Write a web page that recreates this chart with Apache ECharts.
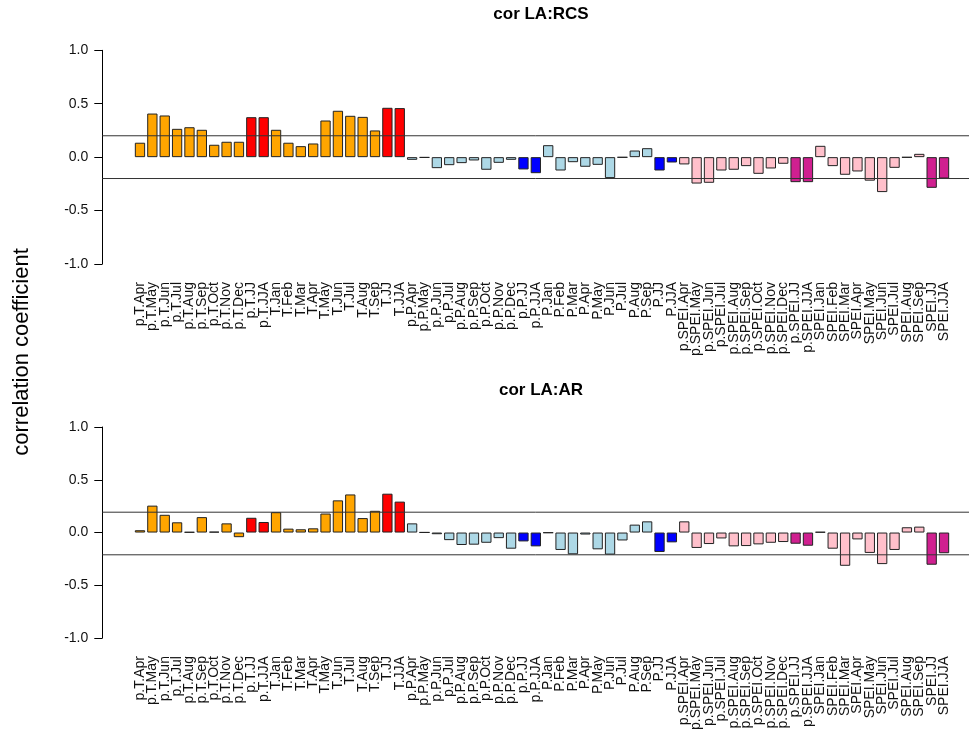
<!DOCTYPE html>
<html>
<head>
<meta charset="utf-8">
<script src="https://cdn.jsdelivr.net/npm/echarts@6/dist/echarts.min.js"></script>
<style>
html,body{margin:0;padding:0;background:#fff;}
#chart{width:969px;height:733px;}
</style>
</head>
<body>
<div id="chart"></div>
<script>
const categories = [
  'p.T.Apr','p.T.May','p.T.Jun','p.T.Jul','p.T.Aug','p.T.Sep','p.T.Oct','p.T.Nov','p.T.Dec','p.T.JJ','p.T.JJA',
  'T.Jan','T.Feb','T.Mar','T.Apr','T.May','T.Jun','T.Jul','T.Aug','T.Sep','T.JJ','T.JJA',
  'p.P.Apr','p.P.May','p.P.Jun','p.P.Jul','p.P.Aug','p.P.Sep','p.P.Oct','p.P.Nov','p.P.Dec','p.P.JJ','p.P.JJA',
  'P.Jan','P.Feb','P.Mar','P.Apr','P.May','P.Jun','P.Jul','P.Aug','P.Sep','P.JJ','P.JJA',
  'p.SPEI.Apr','p.SPEI.May','p.SPEI.Jun','p.SPEI.Jul','p.SPEI.Aug','p.SPEI.Sep','p.SPEI.Oct','p.SPEI.Nov','p.SPEI.Dec','p.SPEI.JJ','p.SPEI.JJA',
  'SPEI.Jan','SPEI.Feb','SPEI.Mar','SPEI.Apr','SPEI.May','SPEI.Jun','SPEI.Jul','SPEI.Aug','SPEI.Sep','SPEI.JJ','SPEI.JJA'
];

// cor LA:RCS
const rcsValues = [
  0.135, 0.408, 0.390, 0.265, 0.280, 0.256, 0.116, 0.144, 0.144, 0.374, 0.374,
  0.256, 0.135, 0.103, 0.128, 0.343, 0.434, 0.387, 0.377, 0.250, 0.462, 0.459,
  -0.025, -0.005, -0.103, -0.075, -0.056, -0.031, -0.118, -0.053, -0.025, -0.115, -0.150,
  0.112, -0.125, -0.047, -0.090, -0.072, -0.196, -0.003, 0.062, 0.084, -0.125, -0.050,
  -0.068, -0.247, -0.240, -0.125, -0.118, -0.084, -0.156, -0.106, -0.062, -0.234, -0.234,
  0.106, -0.084, -0.165, -0.134, -0.220, -0.327, -0.100, -0.003, 0.031, -0.287, -0.200
];

// cor LA:AR
const arValues = [
  0.022, 0.255, 0.168, 0.097, 0.005, 0.146, 0.008, 0.087, -0.044, 0.140, 0.100,
  0.193, 0.037, 0.031, 0.040, 0.180, 0.305, 0.361, 0.137, 0.206, 0.368, 0.293,
  0.087, 0.002, -0.016, -0.072, -0.118, -0.115, -0.097, -0.053, -0.153, -0.084, -0.131,
  -0.003, -0.165, -0.206, -0.019, -0.159, -0.209, -0.075, 0.075, 0.106, -0.184, -0.093,
  0.106, -0.146, -0.109, -0.056, -0.131, -0.128, -0.112, -0.097, -0.090, -0.106, -0.125,
  0.006, -0.153, -0.315, -0.065, -0.193, -0.299, -0.165, 0.050, 0.056, -0.305, -0.196
];

const refLevels = [0.2, -0.2];
const panelTitles = ['cor LA:RCS', 'cor LA:AR'];
const yAxisTitle = 'correlation coefficient';

// styling (not data)
const palette = {
  T:    { month: '#FFA500', season: '#FF0000' },
  P:    { month: '#ADD8E6', season: '#0000FF' },
  SPEI: { month: '#FFC0CB', season: '#D02090' }
};
function colorFor(name) {
  const parts = name.split('.');
  const v = parts.length === 3 ? parts[1] : parts[0];
  const m = parts[parts.length - 1];
  const seasonal = (m === 'JJ' || m === 'JJA');
  return seasonal ? palette[v].season : palette[v].month;
}

const FONT = 'Liberation Sans, Arial, sans-serif';
const band = 12.37;
const gridLeft = 133.8;
const gridWidth = band * categories.length;
const axisX = 102.3;
const panels = [
  { top: 50.3, height: 213.7, values: rcsValues },
  { top: 427, height: 213, values: arValues }
];

const grids = [], xAxes = [], yAxes = [], series = [];
panels.forEach((p, i) => {
  grids.push({ left: gridLeft, top: p.top, width: gridWidth, height: p.height, containLabel: false });
  xAxes.push({
    type: 'category', gridIndex: i, data: categories,
    axisLine: { show: false }, axisTick: { show: false },
    axisLabel: { rotate: 90, interval: 0, margin: 18, fontSize: 14, color: '#111', fontFamily: FONT }
  });
  yAxes.push({
    type: 'value', gridIndex: i, min: -1, max: 1, interval: 0.5,
    offset: gridLeft - axisX,
    axisLine: { show: true, lineStyle: { color: '#000', width: 1 } },
    axisTick: { show: true, length: 8, lineStyle: { color: '#000' } },
    axisLabel: { margin: 14, fontSize: 14, color: '#111', fontFamily: FONT,
      formatter: v => v.toFixed(1) },
    splitLine: { show: false }
  });
  series.push({
    type: 'bar', xAxisIndex: i, yAxisIndex: i, barWidth: 10.3,
    data: p.values.map((v, k) => ({ value: v, itemStyle: { color: colorFor(categories[k]) } })),
    itemStyle: { borderColor: '#222', borderWidth: 1 },
    animation: false, silent: true
  });
});
// reference line grids spanning the full plot region
panels.forEach((p, i) => {
  const gi = grids.length;
  grids.push({ left: axisX, right: 0, top: p.top, height: p.height });
  xAxes.push({ type: 'value', gridIndex: gi, min: 0, max: 1, show: false });
  yAxes.push({ type: 'value', gridIndex: gi, min: -1, max: 1, show: false });
  refLevels.forEach(r => {
    series.push({
      type: 'line', xAxisIndex: gi, yAxisIndex: gi, symbol: 'none',
      data: [[0, r], [1, r]],
      lineStyle: { color: '#333', width: 1 }, animation: false, silent: true
    });
  });
});

const chart = echarts.init(document.getElementById('chart'), null, { renderer: 'canvas' });
chart.setOption({
  backgroundColor: '#fff',
  animation: false,
  grid: grids, xAxis: xAxes, yAxis: yAxes, series: series,
  graphic: [
    { type: 'text', x: 541, y: 14.5, style: { text: panelTitles[0], font: 'bold 17px ' + FONT, fill: '#000', align: 'center', verticalAlign: 'middle' } },
    { type: 'text', x: 541, y: 390, style: { text: panelTitles[1], font: 'bold 17px ' + FONT, fill: '#000', align: 'center', verticalAlign: 'middle' } },
    { type: 'text', x: 22, y: 352, rotation: Math.PI / 2, style: { text: yAxisTitle, font: '22px ' + FONT, fill: '#000', align: 'center', verticalAlign: 'middle' } }
  ]
});
</script>
</body>
</html>
